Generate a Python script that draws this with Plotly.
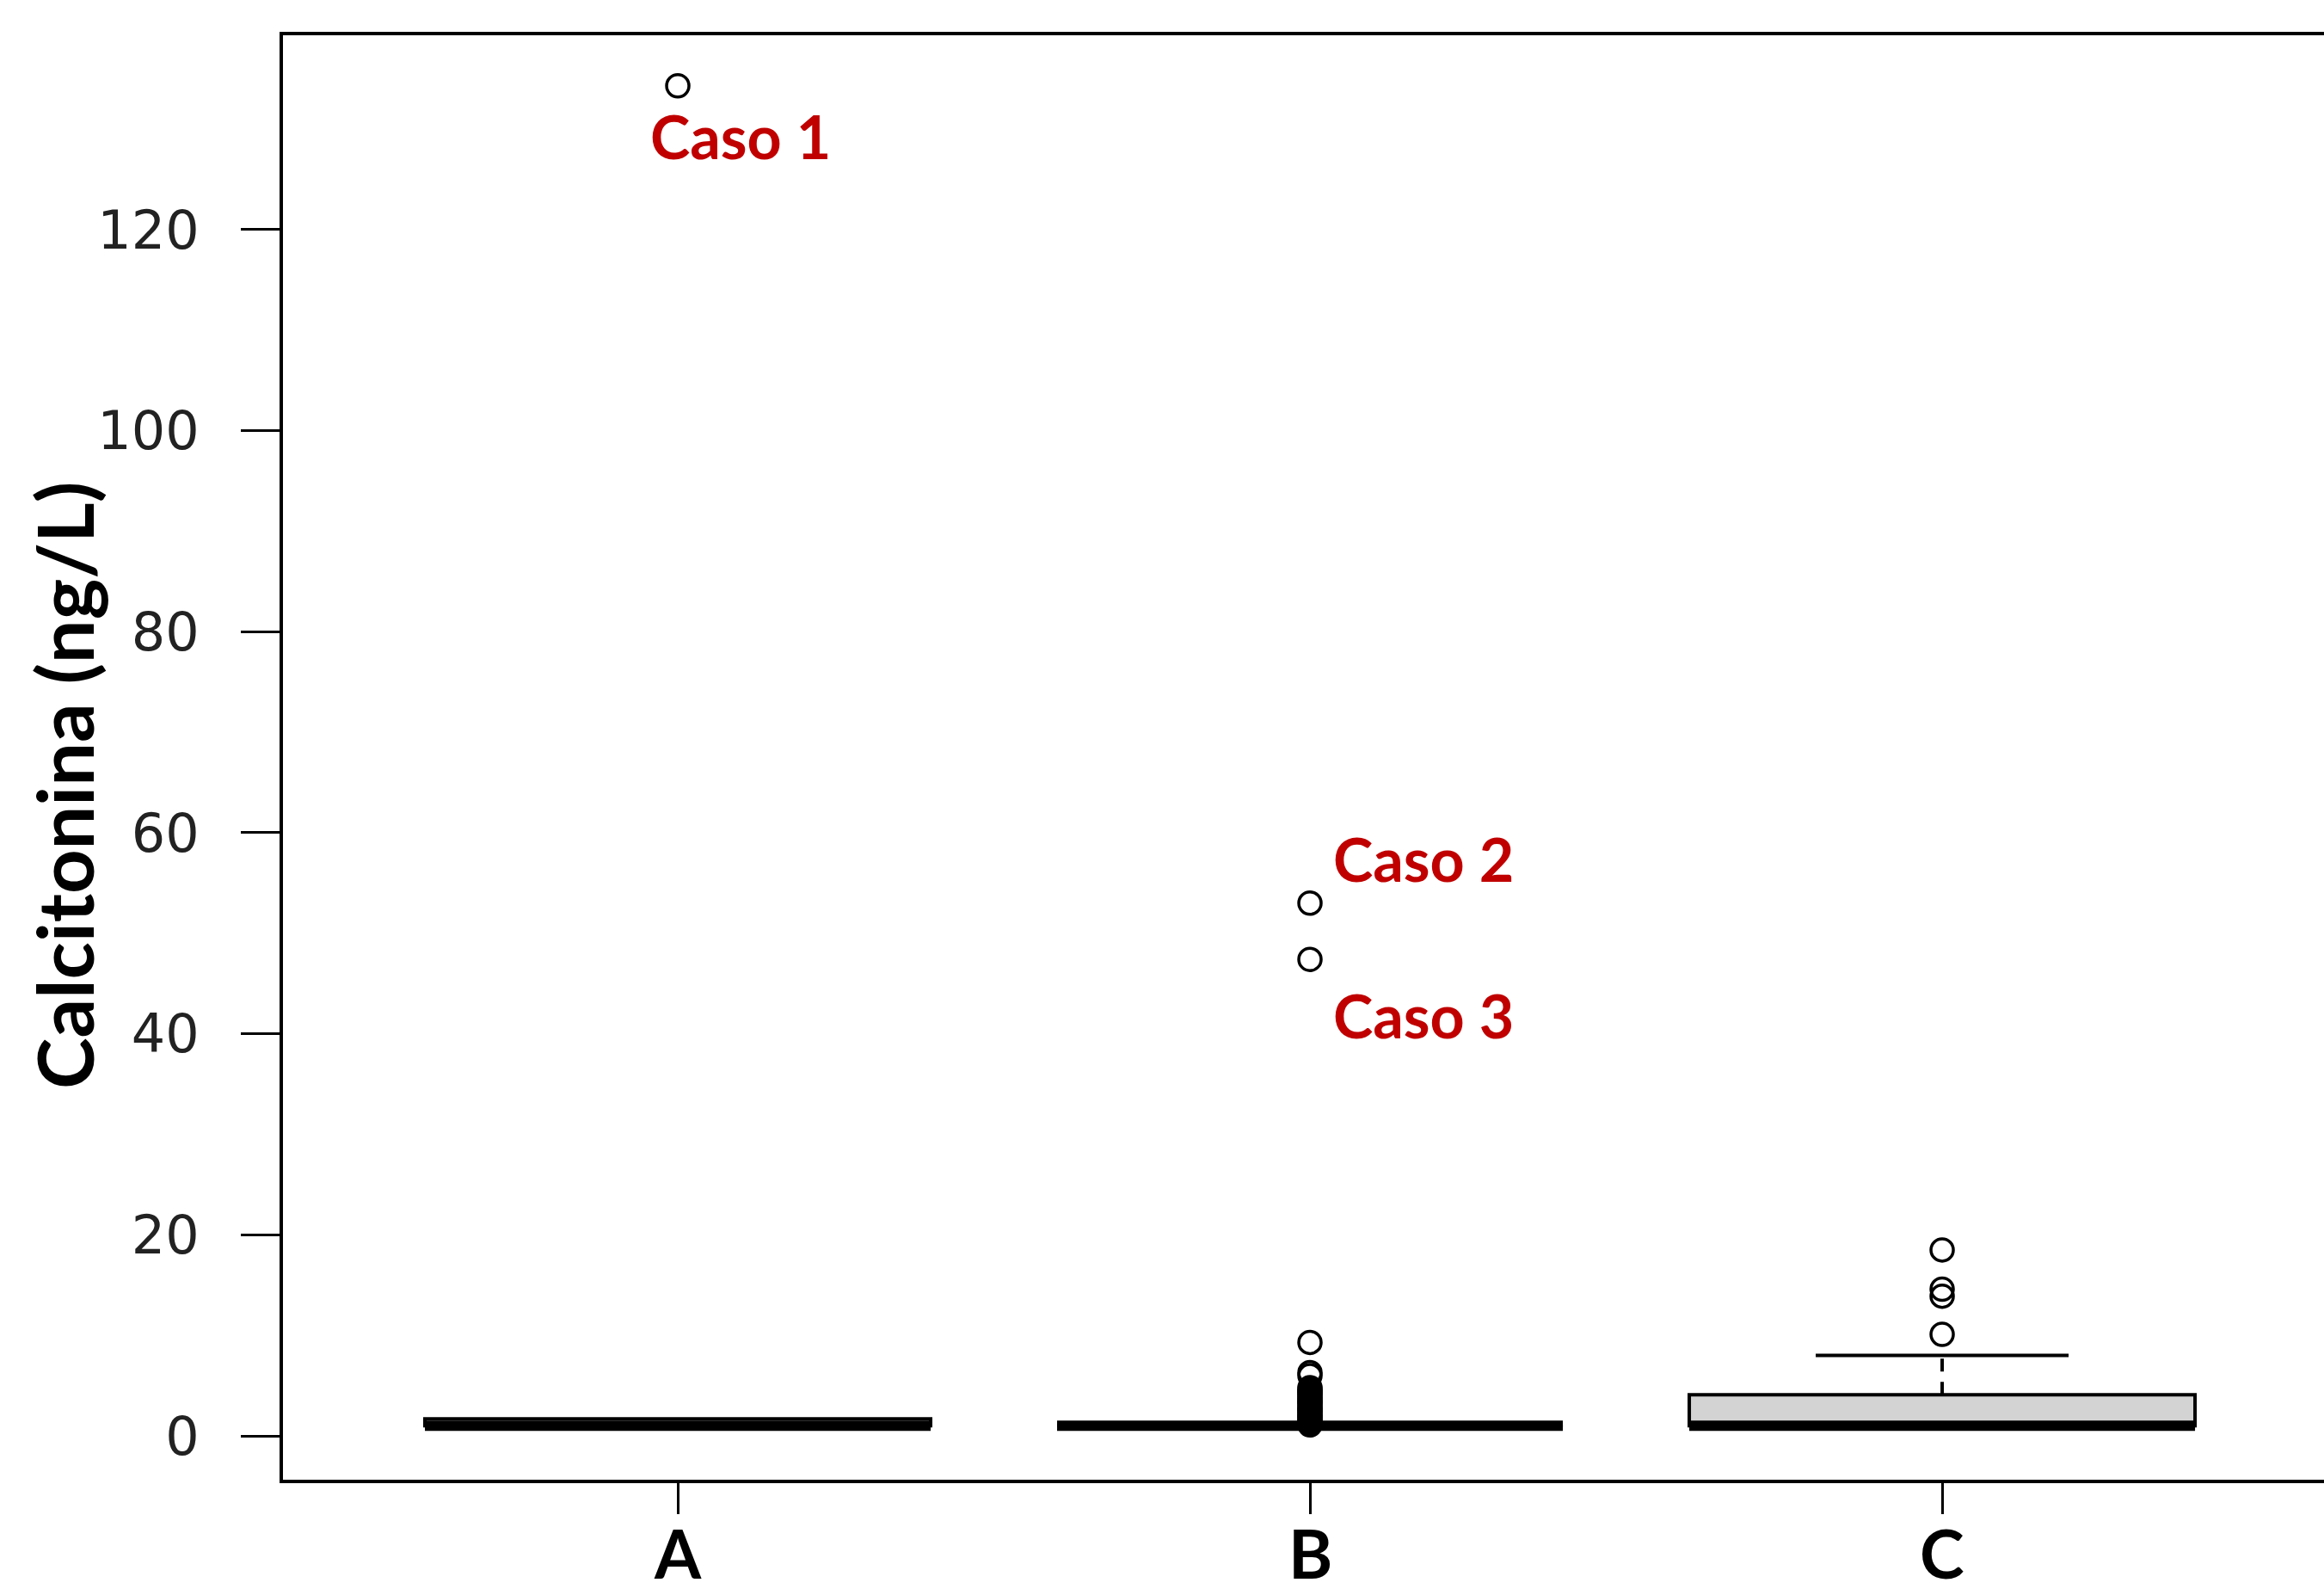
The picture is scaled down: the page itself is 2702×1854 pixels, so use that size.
import plotly.graph_objects as go

# ---- data ----
categories = ["A", "B", "C"]
q1 = [1.0, 1.0, 1.0]
median = [1.0, 1.0, 1.0]
q3 = [1.7, 1.0, 4.1]
upper_whisker = [1.7, 1.0, 8.0]
lower_whisker = [1.0, 1.0, 1.0]
box_fill = ["rgba(0,0,0,0)", "rgba(0,0,0,0)", "#d3d3d3"]

outliers_A = [134.3]
outliers_B = [53.0, 47.4, 9.3, 6.3, 6.0, 4.8, 4.6, 4.4, 4.3, 4.1, 3.9, 3.7, 3.5,
              3.4, 3.2, 3.0, 2.8, 2.6, 2.5, 2.3, 2.1, 1.9, 1.8, 1.6, 1.4, 1.2, 1.1]
outliers_C = [18.5, 14.6, 13.9, 10.1]
outliers = [outliers_A, outliers_B, outliers_C]

case_labels = ["Caso 1", "Caso 2", "Caso 3"]
case_group = [0, 1, 1]
case_value = [134.3, 53.0, 47.4]

y_ticks = [0, 20, 40, 60, 80, 100, 120]

BOX_W = 0.8
CAP_W = 0.4
positions = [i + 1 for i in range(len(categories))]

fig = go.Figure()

for i, pos in enumerate(positions):
    # box body (no plotly whiskers)
    fig.add_trace(go.Box(
        x=[pos], q1=[q1[i]], median=[median[i]], q3=[q3[i]],
        lowerfence=[q1[i]], upperfence=[q3[i]],
        width=BOX_W, whiskerwidth=0, boxpoints=False,
        fillcolor=box_fill[i], line=dict(color="black", width=4),
        showlegend=False, hoverinfo="skip",
    ))
    # dashed whiskers
    if upper_whisker[i] > q3[i]:
        fig.add_trace(go.Scatter(
            x=[pos, pos], y=[q3[i], upper_whisker[i]], mode="lines",
            line=dict(color="black", width=4, dash="15px,12px"),
            showlegend=False, hoverinfo="skip"))
        fig.add_trace(go.Scatter(
            x=[pos - CAP_W / 2, pos + CAP_W / 2], y=[upper_whisker[i]] * 2,
            mode="lines", line=dict(color="black", width=4),
            showlegend=False, hoverinfo="skip"))
    if lower_whisker[i] < q1[i]:
        fig.add_trace(go.Scatter(
            x=[pos, pos], y=[q1[i], lower_whisker[i]], mode="lines",
            line=dict(color="black", width=4, dash="15px,12px"),
            showlegend=False, hoverinfo="skip"))
    # thick median line
    fig.add_trace(go.Scatter(
        x=[pos - BOX_W / 2, pos + BOX_W / 2], y=[median[i]] * 2, mode="lines",
        line=dict(color="black", width=12),
        showlegend=False, hoverinfo="skip"))
    # outliers
    fig.add_trace(go.Scatter(
        x=[pos] * len(outliers[i]), y=outliers[i], mode="markers",
        marker=dict(symbol="circle-open", size=26, color="black",
                    line=dict(color="black", width=3.5)),
        showlegend=False, hoverinfo="skip"))

annotations = []
case_shift = [(73, -58), (132, 52), (132, -65)]
for lab, g, v, (dx, dy) in zip(case_labels, case_group, case_value, case_shift):
    annotations.append(dict(
        x=positions[g], y=v, xref="x", yref="y", text=lab, showarrow=False,
        xshift=dx, yshift=dy, xanchor="center", yanchor="middle",
        font=dict(family="Lato", size=70, color="#C00000", weight="bold")))

# category labels below the x axis
for pos, cat in zip(positions, categories):
    annotations.append(dict(
        x=pos, y=0, xref="x", yref="paper", text=cat, showarrow=False,
        xanchor="center", yanchor="bottom", yshift=-133, borderpad=0,
        font=dict(family="Lato", size=78, color="black", weight="bold")))

annotations.append(dict(
    x=-0.1074, y=0.4807, xref="paper", yref="paper",
    text="Calcitonina (ng/L)", textangle=-90, showarrow=False,
    xanchor="center", yanchor="middle",
    font=dict(family="Lato", size=90, color="black", weight="bold")))

fig.update_layout(
    width=2702, height=1854,
    margin=dict(l=329, r=0, t=41, b=134, autoexpand=False),
    paper_bgcolor="white", plot_bgcolor="white",
    showlegend=False,
    annotations=annotations,
    xaxis=dict(
        range=[0.3755, 3.604], tickvals=positions, ticktext=categories,
        showticklabels=False,
        showgrid=False, zeroline=False, automargin=False,
        showline=True, linecolor="black", linewidth=4, mirror=True,
        ticks="outside", ticklen=36, tickwidth=3, tickcolor="black",
    ),
    yaxis=dict(
        range=[-4.36, 139.33], tickvals=y_ticks,
        ticktext=[str(t) for t in y_ticks],
        showgrid=False, zeroline=False, automargin=False,
        showline=True, linecolor="black", linewidth=4, mirror=False,
        ticks="outside", ticklen=45, tickwidth=2.5, tickcolor="black",
        ticklabelstandoff=36,
        tickfont=dict(family="DejaVu Sans", size=62, color="#222222"),
    ),
)

fig.write_html(
    "out.html",
    config={"displayModeBar": False},
    post_script="document.body.style.margin='0';document.body.style.overflow='hidden';",
)
